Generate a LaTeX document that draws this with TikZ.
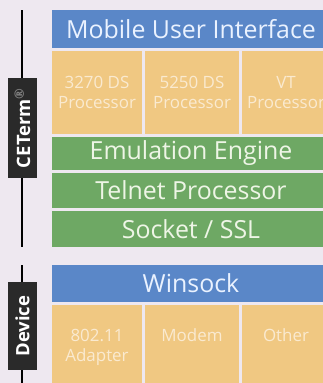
\documentclass[tikz,border=0pt]{standalone}
\usepackage{fontspec}
\setmainfont{Open Sans}
\definecolor{bg}{HTML}{EEE8F0}
\definecolor{bluebar}{HTML}{5A87C8}
\definecolor{orangebox}{HTML}{F0C882}
\definecolor{greenbar}{HTML}{6EA864}
\definecolor{labelbox}{HTML}{2A2A2A}
\definecolor{bluetext}{HTML}{EAF2FF}
\definecolor{greentext}{HTML}{EEF5E6}
\definecolor{orangetext}{HTML}{FAEAD0}
\tikzset{
  layer/.style={inner sep=0pt, outer sep=0pt, align=center},
  bluelayer/.style={layer, fill=bluebar, text=bluetext, font=\fontsize{25}{27}\selectfont},
  greenlayer/.style={layer, fill=greenbar, text=greentext, font=\fontsize{25}{27}\selectfont},
  orangecell/.style={layer, fill=orangebox},
  orangetxt/.style={layer, text=orangetext, font=\fontsize{17}{20}\selectfont},
  sidelabel/.style={layer, fill=labelbox, text=white, font=\bfseries\fontsize{18.5}{20}\selectfont, rotate=90},
  sideline/.style={draw=black, line width=1.5pt}
}
\begin{document}
\begin{tikzpicture}[x=1bp,y=-1bp]
\fill[bg] (0,0) rectangle (323,383);
\useasboundingbox (0,0) rectangle (323,383);
\clip (0,0) rectangle (323,383);
% CETerm stack
\node[bluelayer, minimum width=278bp, minimum height=38bp] (mui) at (191,29) {Mobile User Interface};
\node[orangecell, minimum width=90bp, minimum height=83bp] (c1) at (97,92.5) {};
\node[orangecell, minimum width=94bp, minimum height=83bp] (c2) at (192,92.5) {};
\node[orangecell, minimum width=88bp, minimum height=83bp] (c3) at (286,92.5) {};
\node[orangetxt] (t1) at (c1.center) {3270 DS\\Processor};
\node[orangetxt] (t2) at (c2.center) {5250 DS\\Processor};
\node[orangetxt] (t3) at (c3.center) {VT\\Processor};
\node[greenlayer, minimum width=278bp, minimum height=33bp] (emu) at (191,153.5) {Emulation Engine};
\node[greenlayer, minimum width=278bp, minimum height=35bp] (tel) at (191,190.5) {Telnet Processor};
\node[greenlayer, minimum width=278bp, minimum height=36bp] (sock) at (191,229) {Socket / SSL};
% Device stack
\node[bluelayer, minimum width=278bp, minimum height=37bp] (win) at (191,283.5) {Winsock};
\node[orangecell, minimum width=90bp, minimum height=78bp] (d1) at (97,344) {};
\node[orangecell, minimum width=94bp, minimum height=78bp] (d2) at (192,344) {};
\node[orangecell, minimum width=88bp, minimum height=78bp] (d3) at (286,344) {};
\node[orangetxt, anchor=north] (u1) at (97,329) {802.11\\Adapter};
\node[orangetxt, anchor=north] (u2) at (192,329) {Modem};
\node[orangetxt, anchor=north] (u3) at (286,329) {Other};
% side labels
\coordinate (ct) at (22,10);
\coordinate (cb) at (22,247);
\coordinate (dt) at (22,265);
\coordinate (db) at (22,383);
\draw[sideline] (ct) -- (cb);
\draw[sideline] (dt) -- (db);
\node[sidelabel, minimum width=100bp, minimum height=29bp] (ceterm) at (22.5,128) {CETerm\textsuperscript{\textcolor{gray}{\textregistered}}};
\node[sidelabel, minimum width=88bp, minimum height=29bp] (device) at (22.5,326) {Device};
\end{tikzpicture}
\end{document}
